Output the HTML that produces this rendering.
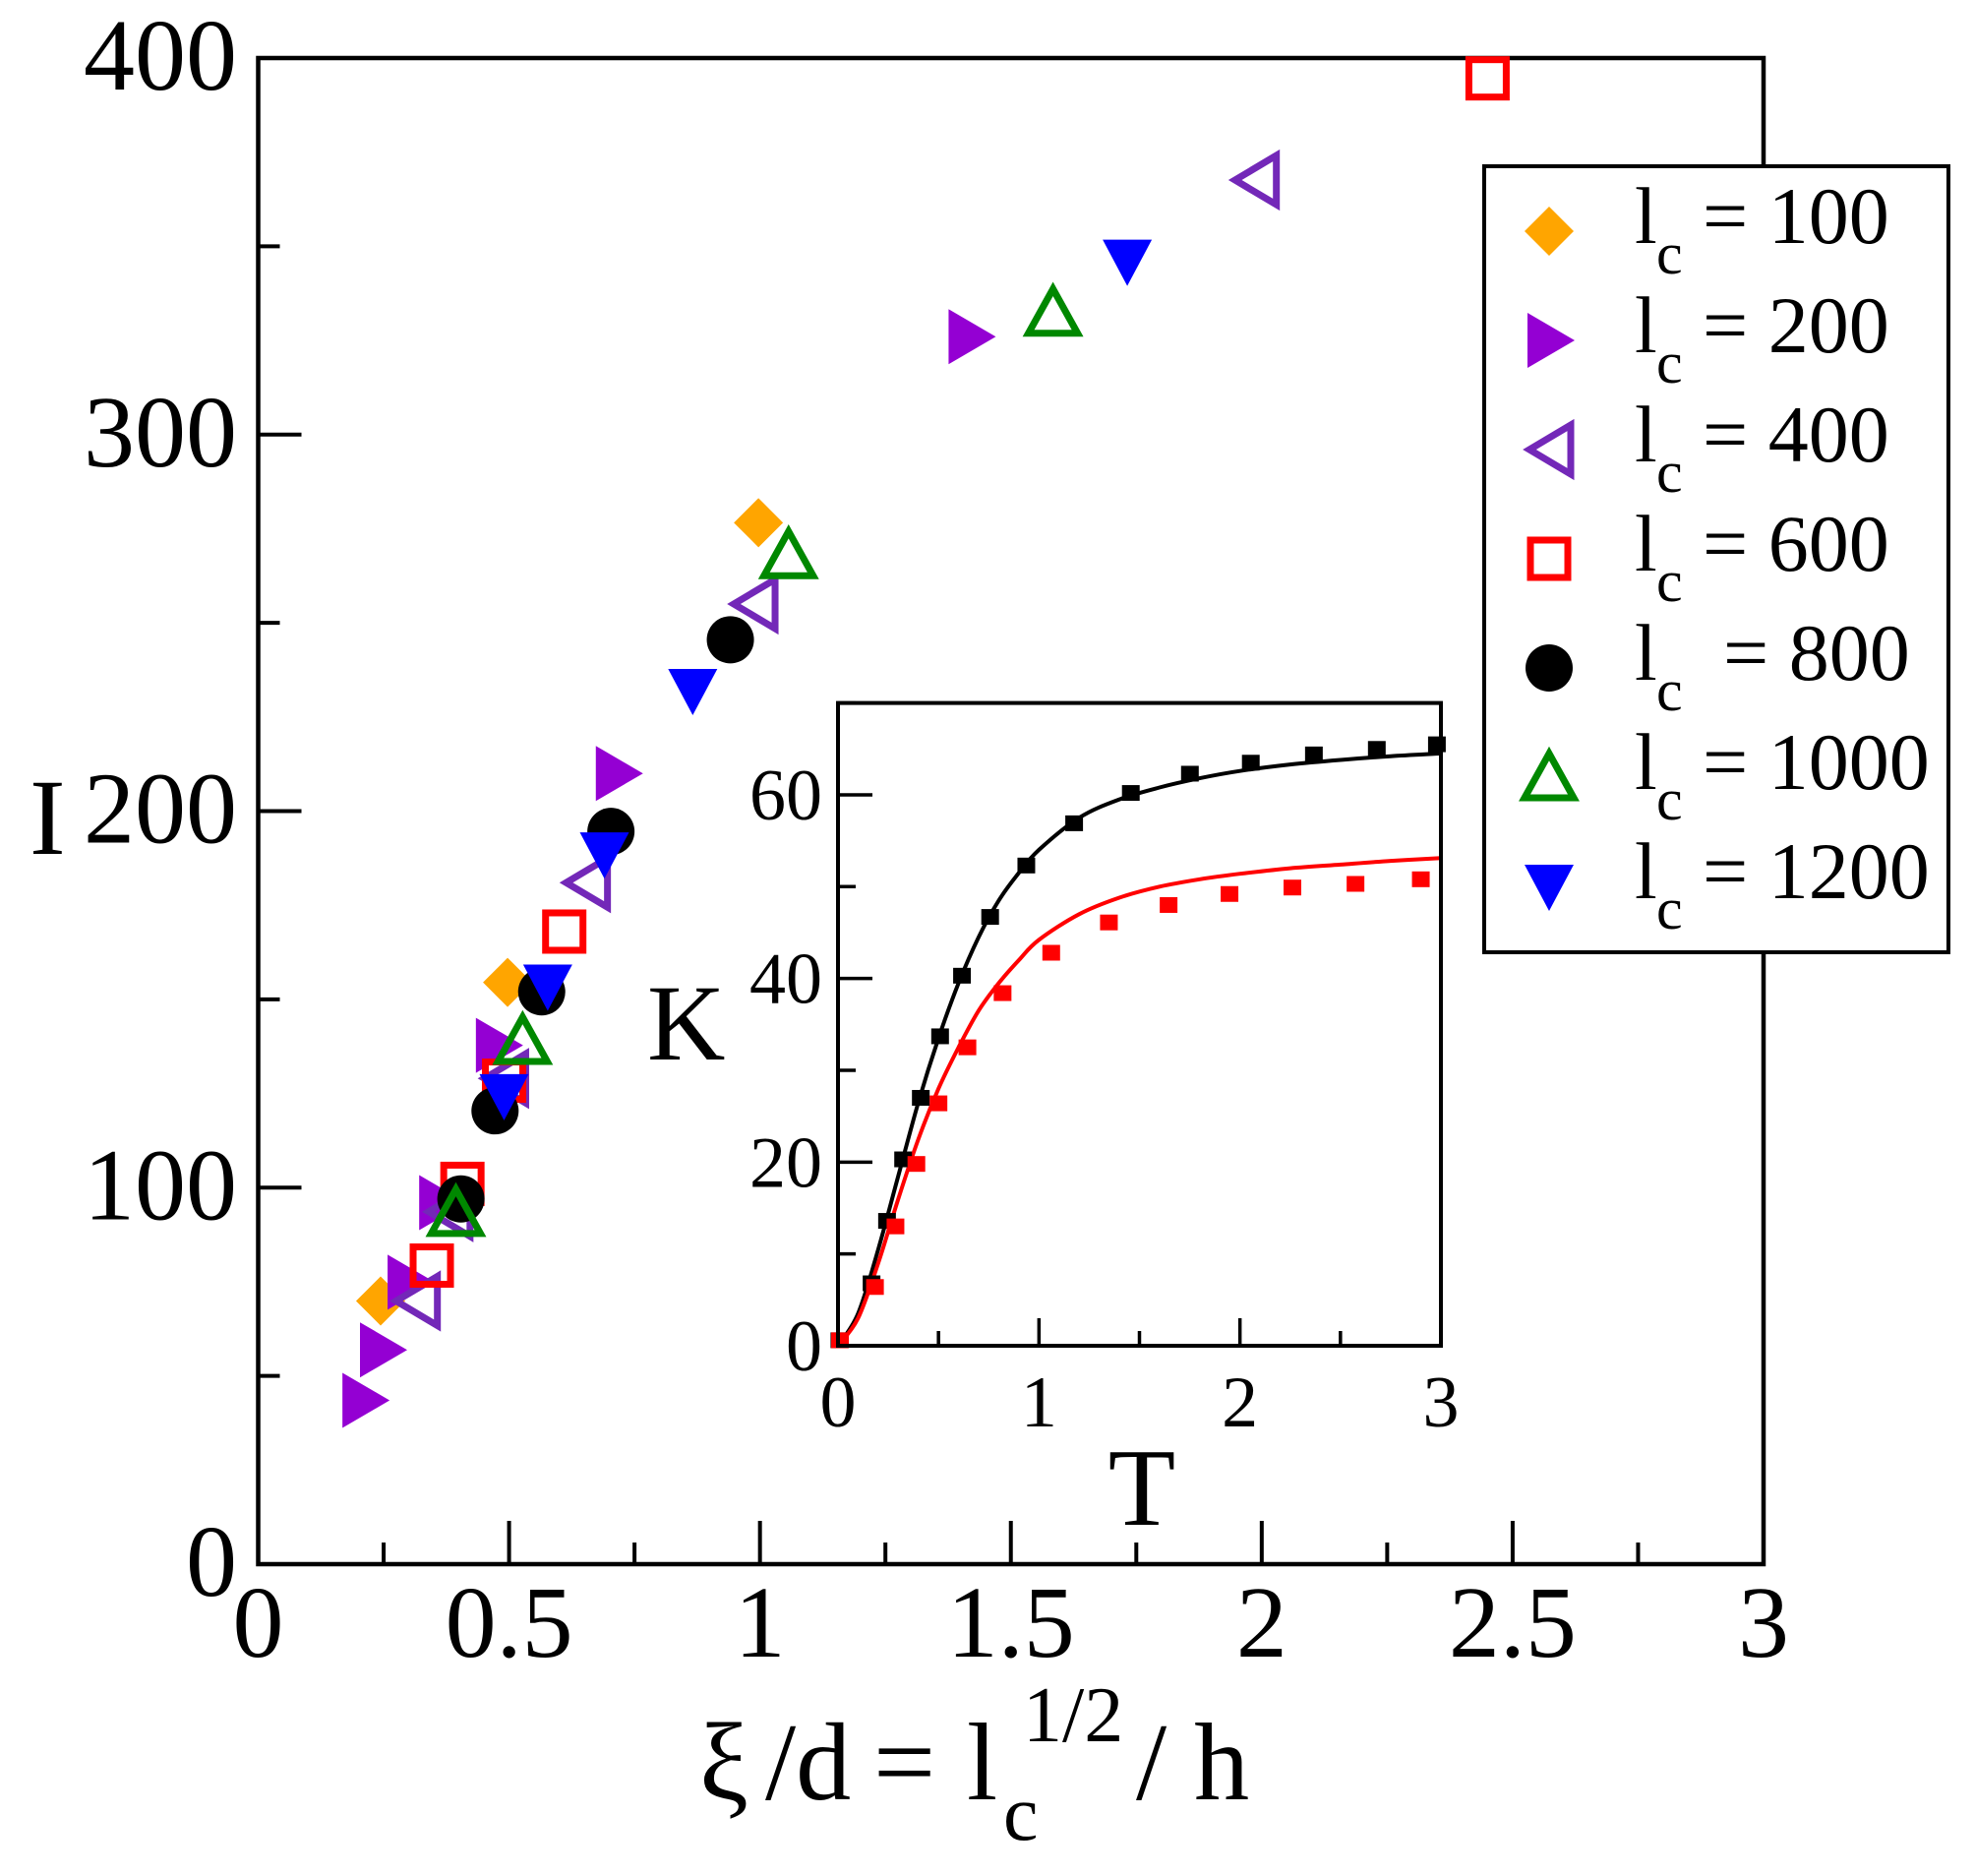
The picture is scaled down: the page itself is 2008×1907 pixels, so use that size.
<!DOCTYPE html>
<html><head><meta charset="utf-8"><style>
html,body{margin:0;padding:0;background:#fff}
svg{display:block}
text{font-family:"Liberation Serif",serif;fill:#000}
</style></head><body>
<svg id="chart" width="2008" height="1907" viewBox="0 0 2008 1907" xmlns="http://www.w3.org/2000/svg">
<rect width="2008" height="1907" fill="#fff"/>
<g id="main"></g>
<g id="inset"></g>
<g id="legend"></g>
<text x="30" y="868" font-size="110">I</text>
<text x="658" y="1077" font-size="110">K</text>
<text x="1161" y="1550" font-size="112" text-anchor="middle">T</text>
<g font-size="112">
<text x="711" y="1829">ξ</text>
<text x="778" y="1829">/d</text>
<text x="888" y="1829">=</text>
<text x="983" y="1829">l</text>
<text x="1020" y="1870" font-size="80">c</text>
<text x="1040" y="1770" font-size="80">1/2</text>
<text x="1155" y="1829">/ h</text>
</g>
</svg>
<script>
// ---- main chart data ----
const xTicksMain = [0, 0.5, 1, 1.5, 2, 2.5, 3];
const xTickLabelsMain = ["0", "0.5", "1", "1.5", "2", "2.5", "3"];
const yTicksMain = [0, 100, 200, 300, 400];
const yTickLabelsMain = ["0", "100", "200", "300", "400"];
const s100x = [0.244, 0.497, 0.997];
const s100y = [69.9, 154.5, 276.6];
const s200x = [0.211, 0.246, 0.301, 0.364, 0.477, 0.716, 1.419];
const s200y = [43.5, 56.9, 74.9, 96, 137.8, 210, 326];
const s400x = [0.314, 0.379, 0.49, 0.653, 0.987, 1.986];
const s400y = [69.9, 93.6, 129, 181, 255, 367.6];
const s600x = [0.346, 0.407, 0.49, 0.61, 2.45];
const s600y = [79.3, 101, 128.4, 168, 394.6];
const s800x = [0.404, 0.472, 0.565, 0.703, 0.941];
const s800y = [97, 120.4, 152, 194.6, 245.5];
const s1000x = [0.394, 0.527, 1.057, 1.584];
const s1000y = [93.3, 139, 268, 332.4];
const s1200x = [0.49, 0.577, 0.69, 0.866, 1.732];
const s1200y = [124.4, 153.5, 188.6, 232, 346];
const legendLabels = ["100", "200", "400", "600", "800", "1000", "1200"];
// ---- inset data ----
const insetXTicks = [0, 1, 2, 3];
const insetYTicks = [0, 20, 40, 60];
const curveT = [0,0.1,0.2,0.3,0.4,0.5,0.6,0.7,0.8,0.9,1,1.2,1.4,1.6,1.8,2,2.25,2.5,2.75,3];
const curveBlack = [0,3.5,10.5,18.5,26.5,33.5,39.5,44.5,48.5,51.5,54,57.5,59.5,60.8,61.8,62.6,63.3,63.8,64.2,64.5];
const curveRed = [0,3,9,16,22.5,28,32.5,36.5,39.5,42,44.2,47,48.8,50,50.8,51.4,52,52.4,52.8,53.1];
const ptsBlackT = [0.007,0.167,0.244,0.324,0.412,0.508,0.617,0.757,0.937,1.175,1.457,1.751,2.054,2.368,2.681,2.98];
const ptsBlackK = [0.6,6.8,13.6,20.3,27,33.7,40.3,46.7,52.3,56.9,60.2,62.3,63.5,64.4,65,65.5];
const ptsRedT = [0.01,0.184,0.286,0.39,0.5,0.644,0.819,1.061,1.348,1.645,1.948,2.261,2.575,2.9];
const ptsRedK = [0.6,6.4,13,19.8,26.4,32.5,38.4,42.8,46.1,48,49.2,49.9,50.3,50.8];

const NS = "http://www.w3.org/2000/svg";
function mk(parent, tag, attrs) {
  const e = document.createElementNS(NS, tag);
  for (const k in attrs) e.setAttribute(k, attrs[k]);
  parent.appendChild(e);
  return e;
}
// main axes
const ML = 262.5, MR = 1793, MT = 59, MB = 1590;
const mx = v => ML + v / 3 * (MR - ML);
const my = v => MB - v / 400 * (MB - MT);
const main = document.getElementById('main');
for (let v = 0; v <= 3.001; v += 0.25) {
  const major = Math.abs(v * 2 - Math.round(v * 2)) < 1e-6;
  const L = major ? 44 : 22;
  const t = mk(main, 'line', {x1: mx(v), x2: mx(v), y1: MB, y2: MB - L, stroke: '#000', 'stroke-width': 4});
  
  
}
for (let v = 0; v <= 400; v += 50) {
  const L = v % 100 === 0 ? 44 : 22;
  const t = mk(main, 'line', {x1: ML, x2: ML + L, y1: my(v), y2: my(v), stroke: '#000', 'stroke-width': 4});
  
  
}
xTicksMain.forEach((v, i) => {
  const t = mk(main, 'text', {x: mx(v), y: 1684, 'font-size': 104, 'text-anchor': 'middle'});
  t.textContent = xTickLabelsMain[i];
  
  
});
yTicksMain.forEach((v, i) => {
  const t = mk(main, 'text', {x: 241, y: my(v) + 32, 'font-size': 104, 'text-anchor': 'end'});
  t.textContent = yTickLabelsMain[i];
  
  
});
const frame = mk(main, 'rect', {x: ML, y: MT, width: MR - ML, height: MB - MT, fill: 'none', stroke: '#000', 'stroke-width': 4.5});



function marker(g, type, cx, cy, s) {
  s = s || 1;
  let e;
  if (type === 0) e = mk(g, 'polygon', {points: `${cx},${cy-25*s} ${cx+25*s},${cy} ${cx},${cy+25*s} ${cx-25*s},${cy}`, fill: '#FFA500'});
  else if (type === 1) e = mk(g, 'polygon', {points: `${cx-22*s},${cy-28*s} ${cx+26*s},${cy} ${cx-22*s},${cy+28*s}`, fill: '#9400D3'});
  else if (type === 2) e = mk(g, 'polygon', {points: `${cx+22*s},${cy-25*s} ${cx-20*s},${cy} ${cx+22*s},${cy+25*s}`, fill: 'none', stroke: '#7328B8', 'stroke-width': 7});
  else if (type === 3) e = mk(g, 'rect', {x: cx-19*s, y: cy-19*s, width: 38*s, height: 38*s, fill: 'none', stroke: '#FF0000', 'stroke-width': 7});
  else if (type === 4) e = mk(g, 'circle', {cx: cx, cy: cy, r: 24*s, fill: '#000'});
  else if (type === 5) e = mk(g, 'polygon', {points: `${cx},${cy-24*s} ${cx+25*s},${cy+21*s} ${cx-25*s},${cy+21*s}`, fill: 'none', stroke: '#008800', 'stroke-width': 7});
  else e = mk(g, 'polygon', {points: `${cx-25*s},${cy-22*s} ${cx+25*s},${cy-22*s} ${cx},${cy+25*s}`, fill: '#0000FF'});
  return e;
}
const seriesX = [s100x, s200x, s400x, s600x, s800x, s1000x, s1200x];
const seriesY = [s100y, s200y, s400y, s600y, s800y, s1000y, s1200y];
seriesX.forEach((xs, si) => {
  const g = mk(main, 'g', {});
  
  
  xs.forEach((xv, i) => {
    const m = marker(g, si, mx(xv), my(seriesY[si][i]));
    
    
  });
});

// inset
const IL = 852, IR = 1465, IT = 714.6, IB = 1368;
const ix = v => IL + v / 3 * (IR - IL);
const iy = v => IB - v / 70 * (IB - IT);
const inset = document.getElementById('inset');
const bg = mk(inset, 'rect', {x: IL, y: IT, width: IR - IL, height: IB - IT, fill: '#fff'});


for (let v = 0; v <= 3.001; v += 0.5) {
  const L = Math.abs(v - Math.round(v)) < 1e-6 ? 28 : 15;
  const t = mk(inset, 'line', {x1: ix(v), x2: ix(v), y1: IB, y2: IB - L, stroke: '#000', 'stroke-width': 3.5});
  
  
}
for (let v = 0; v <= 70; v += 10) {
  const L = v % 20 === 0 ? 35 : 18;
  const t = mk(inset, 'line', {x1: IL, x2: IL + L, y1: iy(v), y2: iy(v), stroke: '#000', 'stroke-width': 3.5});
  
  
}
insetXTicks.forEach(v => {
  const t = mk(inset, 'text', {x: ix(v), y: 1450, 'font-size': 74, 'text-anchor': 'middle'});
  t.textContent = String(v);
  
  
});
insetYTicks.forEach(v => {
  const t = mk(inset, 'text', {x: 836, y: iy(v) + 25, 'font-size': 74, 'text-anchor': 'end'});
  t.textContent = String(v);
  
  
});
function curve(ys, col, name) {
  const P = curveT.map((t, i) => [ix(t), iy(ys[i])]);
  let d = 'M' + P[0][0].toFixed(1) + ',' + P[0][1].toFixed(1);
  for (let i = 0; i < P.length - 1; i++) {
    const p0 = P[Math.max(i - 1, 0)], p1 = P[i], p2 = P[i + 1], p3 = P[Math.min(i + 2, P.length - 1)];
    const c1 = [p1[0] + (p2[0] - p0[0]) / 6, p1[1] + (p2[1] - p0[1]) / 6];
    const c2 = [p2[0] - (p3[0] - p1[0]) / 6, p2[1] - (p3[1] - p1[1]) / 6];
    d += ` C${c1[0].toFixed(1)},${c1[1].toFixed(1)} ${c2[0].toFixed(1)},${c2[1].toFixed(1)} ${p2[0].toFixed(1)},${p2[1].toFixed(1)}`;
  }
  const p = mk(inset, 'path', {d: d, fill: 'none', stroke: col, 'stroke-width': 4});
  
  
}
curve(curveBlack, '#000', 'inset-curve-black');
curve(curveRed, '#FF0000', 'inset-curve-red');
function pts(ts, ks, col, name) {
  ts.forEach((t, i) => {
    const r = mk(inset, 'rect', {x: ix(t) - 9, y: iy(ks[i]) - 8, width: 18, height: 16, fill: col});
    
    
  });
}
pts(ptsBlackT, ptsBlackK, '#000', 'inset-point-black');
pts(ptsRedT, ptsRedK, '#FF0000', 'inset-point-red');
const iframe = mk(inset, 'rect', {x: IL, y: IT, width: IR - IL, height: IB - IT, fill: 'none', stroke: '#000', 'stroke-width': 4});



// legend
const leg = document.getElementById('legend');
const lbox = mk(leg, 'rect', {x: 1509, y: 169, width: 472, height: 799, fill: '#fff', stroke: '#000', 'stroke-width': 4});


legendLabels.forEach((lab, i) => {
  const cy = 235 + i * 111;
  const g = mk(leg, 'g', {});
  
  
  marker(g, i, 1575, cy);
  const t1 = mk(g, 'text', {x: 1662, y: cy + 12, 'font-size': 82});
  t1.textContent = 'l';
  const t2 = mk(g, 'text', {x: 1684, y: cy + 43, 'font-size': 60});
  t2.textContent = 'c';
  const t3 = mk(g, 'text', {x: lab === '800' ? 1752 : 1731, y: cy + 12, 'font-size': 82});
  t3.textContent = '= ' + lab;
});
</script>
</body></html>
